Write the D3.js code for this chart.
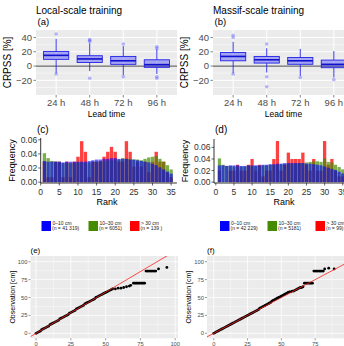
<!DOCTYPE html>
<html>
<head>
<meta charset="utf-8">
<script src="https://cdn.jsdelivr.net/npm/d3@7/dist/d3.min.js"></script>
<style>
  body { margin: 0; background: #fff; }
  text { font-family: "Liberation Sans", Arial, sans-serif; }
</style>
</head>
<body>
<div id="graphic"></div>
<script>
// ---- data ----
const leadTimes = ["24 h", "48 h", "72 h", "96 h"];
// [lower whisker, q1, median, q3, upper whisker]
const localBoxes = [[-10, 9.4, 15, 20.5, 38], [-7, 5, 10, 14.5, 32], [-13, 2.4, 7.4, 13.5, 28], [-11, -1.8, 2, 8.8, 24]];
const localOutliers = [[45, -11], [34, 36, 37, -17], [31, -15], [25, 27, -15, -17]];
const massifBoxes = [[-10, 7.4, 13.5, 19, 34], [-9, 4.2, 8.8, 13.5, 25], [-14, 2.5, 7.4, 12, 24], [-16, -2.3, 2.4, 8.4, 21]];
const massifOutliers = [[40, 43, -11], [31, -15, -29], [-16], [-19]];

const ranks = d3.range(1, 36);
const localBlue = [0.030,0.029,0.029,0.029,0.029,0.028,0.029,0.029,0.029,0.029,0.029,0.029,0.030,0.031,0.032,0.032,0.033,0.033,0.034,0.034,0.033,0.033,0.033,0.032,0.032,0.031,0.030,0.029,0.028,0.026,0.024,0.021,0.018,0.015,0.012];
const localGreen = [0.041,0.034,0.030,0.029,0.028,0.027,0.027,0.027,0.027,0.028,0.028,0.028,0.028,0.029,0.029,0.030,0.030,0.031,0.031,0.032,0.032,0.034,0.033,0.033,0.032,0.032,0.031,0.033,0.035,0.036,0.037,0.033,0.029,0.024,0.018];
const localRed = [0.029,0.007,0.007,0.029,0.029,0.007,0.029,0.007,0.029,0.036,0.058,0.043,0.007,0.029,0.029,0.029,0.036,0.043,0.050,0.043,0.029,0.029,0.058,0.043,0.022,0.029,0.022,0.029,0.014,0.029,0.043,0.029,0.029,0.014,0.007];
const massifBlue = [0.029,0.029,0.028,0.029,0.029,0.029,0.028,0.028,0.029,0.029,0.029,0.029,0.030,0.030,0.031,0.031,0.032,0.032,0.033,0.033,0.033,0.033,0.033,0.033,0.032,0.032,0.031,0.030,0.029,0.027,0.025,0.023,0.021,0.018,0.015];
const massifGreen = [0.041,0.030,0.028,0.028,0.027,0.027,0.027,0.027,0.028,0.028,0.028,0.028,0.029,0.029,0.030,0.030,0.030,0.031,0.031,0.031,0.032,0.032,0.033,0.033,0.034,0.035,0.036,0.036,0.035,0.041,0.035,0.034,0.030,0.026,0.022];
const massifRed = [0.020,0.000,0.000,0.020,0.020,0.030,0.020,0.020,0.030,0.040,0.020,0.030,0.010,0.020,0.020,0.040,0.071,0.020,0.030,0.051,0.040,0.040,0.040,0.051,0.030,0.020,0.040,0.020,0.020,0.071,0.030,0.040,0.020,0.010,0.010];

const classLabels = ["0\u201310 cm", "10\u201330 cm", "> 30 cm"];
const localCounts = ["(n = 41 319)", "(n = 6051)", "(n = 139 )"];
const massifCounts = ["(n = 42 229)", "(n = 5181)", "(n = 99)"];
const classColors = ["#0000ff", "#458b00", "#ff0000"];

// quantile pairs: forecast vs observation, plus reference line [intercept, slope]
const localForecast = [0,1,2,3,4,5,6,7,8,9,10,11,12,13,14,15,16,17,18,19,20,21,22,23,24,25,26,27,28,29,30,31,32,33,34,35,36,37,38,39,40,41,42,43,44,45,46,47,48,49,50,51,52,53,54,55,57,59,61,63,65,67,68,70,71,72,73,74,75,76,77,78,79,80,81,82,83,84,85,86,88,94];
const localObserved = [0,1,2,3,5,6,7,8,9,10,12,13,14,15,16,17,18,20,21,22,23,24,25,26,28,29,30,31,32,34,35,36,37,38,39,41,42,43,44,45,46,47,48,50,51,52,53,54,55,56,57,58,59,60,61,62,62,63,63,64,65,66,67,70,70,70,70,70,70,70,70,70,87,87,87,87,87,87,87,87,90,92];
const localLine = [0, 1.15];
const massifForecast = [0,1,2,3,4,5,6,7,8,9,10,11,12,13,14,15,16,17,18,19,20,21,22,23,24,25,26,27,28,29,30,31,32,33,34,35,36,37,38,39,40,41,42,43,44,45,46,47,48,49,50,51,52,53,54,55,56,57,58,59,60,61,62,63,64,65,66,67,68,69,70,71,72,73,74,75,76,77,78,79,80,81,82,85,89];
const massifObserved = [0,1,2,3,4,5,6,7,8,9,10,11,12,13,14,15,16,17,18,19,20,21,22,23,24,25,26,27,28,29,30,31,32,33,35,36,37,38,39,40,41,42,43,45,46,47,48,49,50,51,52,53,54,55,56,57,58,58,59,59,60,61,62,63,64,64,65,70,70,70,70,70,70,70,87,87,87,87,87,87,87,87,90,91,90];
const massifLine = [0, 1];

// ---- svg ----
const svg = d3.select("#graphic")
    .append("svg")
    .attr("width", 344)
    .attr("height", 346)
    .style("display", "block");

const tickGrey = "#4d4d4d";

function boxPanel(boxes, outliers, title, tag, p) {
    const g = svg.append("g");
    const step = (p.x1 - p.x0) / 4.2;
    const x = d3.scaleBand().domain(leadTimes)
        .range([p.x0 + 0.1 * step, p.x1 - 0.1 * step]);
    const y = d3.scaleLinear().domain([-40.5, 50.5]).range([p.y1, p.y0]);

    g.append("rect").attr("x", p.x0).attr("y", p.y0)
        .attr("width", p.x1 - p.x0).attr("height", p.y1 - p.y0)
        .attr("fill", "#ebebeb");
    // grid
    g.selectAll(".minor").data([-30, -10, 10, 30]).join("line")
        .attr("x1", p.x0).attr("x2", p.x1)
        .attr("y1", d => y(d)).attr("y2", d => y(d))
        .attr("stroke", "#fff").attr("stroke-width", 0.5);
    g.selectAll(".major").data([-20, 0, 20, 40]).join("line")
        .attr("x1", p.x0).attr("x2", p.x1)
        .attr("y1", d => y(d)).attr("y2", d => y(d))
        .attr("stroke", "#fff").attr("stroke-width", 1);
    g.selectAll(".vmajor").data(leadTimes).join("line")
        .attr("x1", d => x(d) + x.bandwidth() / 2).attr("x2", d => x(d) + x.bandwidth() / 2)
        .attr("y1", p.y0).attr("y2", p.y1)
        .attr("stroke", "#fff").attr("stroke-width", 1);
    // zero reference
    g.append("line").attr("x1", p.x0).attr("x2", p.x1)
        .attr("y1", y(0)).attr("y2", y(0))
        .attr("stroke", "#666").attr("stroke-width", 1.3);

    const bw = x.bandwidth() * 0.75;
    const box = g.selectAll(".box").data(boxes).join("g")
        .attr("transform", (d, i) => `translate(${x(leadTimes[i]) + x.bandwidth() / 2},0)`);
    box.append("line").attr("x1", 0).attr("x2", 0)
        .attr("y1", d => y(d[0])).attr("y2", d => y(d[1]))
        .attr("stroke", "#2222e8").attr("stroke-width", 0.9);
    box.append("line").attr("x1", 0).attr("x2", 0)
        .attr("y1", d => y(d[3])).attr("y2", d => y(d[4]))
        .attr("stroke", "#2222e8").attr("stroke-width", 0.9);
    box.append("rect").attr("x", -bw / 2).attr("width", bw)
        .attr("y", d => y(d[3])).attr("height", d => y(d[1]) - y(d[3]))
        .attr("fill", "#0000ff").attr("fill-opacity", 0.3)
        .attr("stroke", "#2222e8").attr("stroke-width", 0.9);
    box.append("line").attr("x1", -bw / 2).attr("x2", bw / 2)
        .attr("y1", d => y(d[2])).attr("y2", d => y(d[2]))
        .attr("stroke", "#1010d0").attr("stroke-width", 1.6);
    box.each(function(d, i) {
        d3.select(this).selectAll("circle").data(outliers[i]).join("circle")
            .attr("cx", 0).attr("cy", v => y(v)).attr("r", 1.8)
            .attr("fill", "#5050ff").attr("fill-opacity", 0.4);
    });

    // axes
    g.selectAll(".ytl").data([-20, 0, 20, 40]).join("text")
        .attr("x", p.x0 - 4).attr("y", d => y(d) + 3.3)
        .attr("text-anchor", "end").attr("font-size", 9.5).attr("fill", tickGrey)
        .text(d => d < 0 ? "\u2212" + (-d) : d);
    g.selectAll(".ytk").data([-20, 0, 20, 40]).join("line")
        .attr("x1", p.x0 - 2.5).attr("x2", p.x0)
        .attr("y1", d => y(d)).attr("y2", d => y(d))
        .attr("stroke", "#333").attr("stroke-width", 0.6);
    g.selectAll(".xtl").data(leadTimes).join("text")
        .attr("x", d => x(d) + x.bandwidth() / 2).attr("y", p.y1 + 10.5)
        .attr("text-anchor", "middle").attr("font-size", 9.5).attr("fill", tickGrey)
        .text(d => d);
    g.selectAll(".xtk").data(leadTimes).join("line")
        .attr("x1", d => x(d) + x.bandwidth() / 2).attr("x2", d => x(d) + x.bandwidth() / 2)
        .attr("y1", p.y1).attr("y2", p.y1 + 2.5)
        .attr("stroke", "#333").attr("stroke-width", 0.6);

    g.append("text").attr("transform", `translate(${p.x0 - 25},${(p.y0 + p.y1) / 2}) rotate(-90)`)
        .attr("text-anchor", "middle").attr("font-size", 10).text("CRPSS [%]");
    g.append("text").attr("x", (p.x0 + p.x1) / 2).attr("y", p.y1 + 22)
        .attr("text-anchor", "middle").attr("font-size", 8.5).text("Lead time");
    g.append("text").attr("x", p.x0).attr("y", 14)
        .attr("font-size", 10).text(title);
    g.append("text").attr("x", p.x0 + 1.5).attr("y", 25)
        .attr("font-size", 9.5).text(tag);
}

function rankPanel(blue, green, red, counts, tag, p) {
    const g = svg.append("g");
    const x = d3.scaleLinear().domain(p.xd).range([p.x0, p.x1]);
    const y = d3.scaleLinear().domain(p.yd).range([p.y1, p.y0]);
    // drawn red first, blue last; overlapping with transparency
    const series = [[red, classColors[2], 0.75], [green, classColors[1], 0.7], [blue, classColors[0], 0.6]];
    series.forEach(([vals, col, op]) => {
        g.append("g").selectAll("rect").data(ranks).join("rect")
            .attr("x", r => x(r - 0.45)).attr("width", x(0.9) - x(0))
            .attr("y", (r, i) => y(vals[i])).attr("height", (r, i) => y(0) - y(vals[i]))
            .attr("fill", col).attr("fill-opacity", op);
    });
    g.append("line").attr("x1", p.x0).attr("x2", p.x0).attr("y1", p.y0).attr("y2", p.y1)
        .attr("stroke", "#000").attr("stroke-width", 0.8);
    g.append("line").attr("x1", p.x0).attr("x2", p.x1).attr("y1", p.y1).attr("y2", p.y1)
        .attr("stroke", "#000").attr("stroke-width", 0.8);
    const yt = [0, 0.02, 0.04, 0.06];
    g.selectAll(".ytk").data(yt).join("line")
        .attr("x1", p.x0 - 2.5).attr("x2", p.x0).attr("y1", d => y(d)).attr("y2", d => y(d))
        .attr("stroke", "#000").attr("stroke-width", 0.6);
    g.selectAll(".ytl").data(yt).join("text")
        .attr("x", p.x0 - 3.5).attr("y", d => y(d) + 3)
        .attr("text-anchor", "end").attr("font-size", 8.5).attr("fill", "#333")
        .text(d => d3.format(".2f")(d));
    const xt = [0, 5, 10, 15, 20, 25, 30, 35];
    g.selectAll(".xtk").data(xt).join("line")
        .attr("x1", d => x(d)).attr("x2", d => x(d)).attr("y1", p.y1).attr("y2", p.y1 + 2.5)
        .attr("stroke", "#000").attr("stroke-width", 0.6);
    g.selectAll(".xtl").data(xt).join("text")
        .attr("x", d => x(d)).attr("y", p.y1 + 11.5)
        .attr("text-anchor", "middle").attr("font-size", 8.5).attr("fill", "#333")
        .text(d => d);
    g.append("text").attr("x", p.xc).attr("y", p.y1 + 21.5)
        .attr("text-anchor", "middle").attr("font-size", 9).text("Rank");
    g.append("text").attr("transform", `translate(${p.x0 - 26},${(p.y0 + p.y1) / 2}) rotate(-90)`)
        .attr("text-anchor", "middle").attr("font-size", 9).text("Frequency");
    g.append("text").attr("x", p.tagX).attr("y", 133)
        .attr("font-size", 10).text(tag);

    // legend
    const lg = g.selectAll(".key").data(classLabels).join("g")
        .attr("transform", (d, i) => `translate(${p.keys[i]},221)`);
    lg.append("rect").attr("width", 9.5).attr("height", 10)
        .attr("fill", (d, i) => classColors[i]);
    lg.append("text").attr("x", 11).attr("y", 4.4).attr("font-size", 5).attr("fill", "#222")
        .text(d => d);
    lg.append("text").attr("x", 10.5).attr("y", 9.2).attr("font-size", 5).attr("fill", "#222")
        .text((d, i) => counts[i]);
}

function qqPanel(fc, obs, refLine, tag, p) {
    const g = svg.append("g");
    const x = d3.scaleLinear().domain(p.xd).range([p.x0, p.x1]);
    const y = d3.scaleLinear().domain(p.yd).range([p.y1, p.y0]);
    g.append("rect").attr("x", p.x0).attr("y", p.y0)
        .attr("width", p.x1 - p.x0).attr("height", p.y1 - p.y0).attr("fill", "#ebebeb");
    const minor = [12.5, 37.5, 62.5, 87.5];
    const major = [0, 25, 50, 75, 100];
    g.selectAll(".hmin").data(minor).join("line")
        .attr("x1", p.x0).attr("x2", p.x1).attr("y1", d => y(d)).attr("y2", d => y(d))
        .attr("stroke", "#fff").attr("stroke-width", 0.4);
    g.selectAll(".vmin").data(minor).join("line")
        .attr("y1", p.y0).attr("y2", p.y1).attr("x1", d => x(d)).attr("x2", d => x(d))
        .attr("stroke", "#fff").attr("stroke-width", 0.4);
    g.selectAll(".hmaj").data(major).join("line")
        .attr("x1", p.x0).attr("x2", p.x1).attr("y1", d => y(d)).attr("y2", d => y(d))
        .attr("stroke", "#fff").attr("stroke-width", 0.8);
    g.selectAll(".vmaj").data(major).join("line")
        .attr("y1", p.y0).attr("y2", p.y1).attr("x1", d => x(d)).attr("x2", d => x(d))
        .attr("stroke", "#fff").attr("stroke-width", 0.8);

    g.selectAll("circle").data(fc).join("circle")
        .attr("cx", d => x(d)).attr("cy", (d, i) => y(obs[i])).attr("r", 1.4)
        .attr("fill", "#000");
    const clipId = "clip" + tag.replace(/\W/g, "");
    g.append("clipPath").attr("id", clipId).append("rect")
        .attr("x", p.x0).attr("y", p.y0).attr("width", p.x1 - p.x0).attr("height", p.y1 - p.y0);
    const [a, b] = refLine;
    g.append("line").attr("clip-path", `url(#${clipId})`)
        .attr("x1", x(p.xd[0])).attr("y1", y(a + b * p.xd[0]))
        .attr("x2", x(p.xd[1])).attr("y2", y(a + b * p.xd[1]))
        .attr("stroke", "#ff2020").attr("stroke-width", 0.8);

    g.selectAll(".ytk").data(major).join("line")
        .attr("x1", p.x0 - 2).attr("x2", p.x0).attr("y1", d => y(d)).attr("y2", d => y(d))
        .attr("stroke", "#333").attr("stroke-width", 0.5);
    g.selectAll(".ytl").data(major).join("text")
        .attr("x", p.x0 - 3).attr("y", d => y(d) + 2)
        .attr("text-anchor", "end").attr("font-size", 5.8).attr("fill", tickGrey)
        .text(d => d);
    g.selectAll(".xtk").data(major).join("line")
        .attr("x1", d => x(d)).attr("x2", d => x(d)).attr("y1", p.y1).attr("y2", p.y1 + 2)
        .attr("stroke", "#333").attr("stroke-width", 0.5);
    g.selectAll(".xtl").data(major).join("text")
        .attr("x", d => x(d)).attr("y", p.y1 + 7.5)
        .attr("text-anchor", "middle").attr("font-size", 5.8).attr("fill", tickGrey)
        .text(d => d);
    g.append("text").attr("transform", `translate(${p.x0 - 16},${(p.y0 + p.y1) / 2}) rotate(-90)`)
        .attr("text-anchor", "middle").attr("font-size", 7).text("Observation [cm]");
    g.append("text").attr("x", p.x0).attr("y", 253)
        .attr("font-size", 8).text(tag);
}

boxPanel(localBoxes, localOutliers, "Local-scale training", "(a)", {x0: 36, x1: 177, y0: 30, y1: 95});
boxPanel(massifBoxes, massifOutliers, "Massif-scale training", "(b)", {x0: 213, x1: 354, y0: 30, y1: 95});

rankPanel(localBlue, localGreen, localRed, localCounts, "(c)",
    {x0: 40.7, x1: 176.9, xd: [0, 36.55], y0: 138, y1: 183, yd: [-0.0012, 0.0625], xc: 107, tagX: 37, keys: [41.5, 88.5, 130]});
rankPanel(massifBlue, massifGreen, massifRed, massifCounts, "(d)",
    {x0: 214, x1: 350, xd: [-0.5, 37], y0: 139, y1: 183, yd: [-0.0015, 0.0745], xc: 284, tagX: 215, keys: [220, 267.5, 315.5]});

qqPanel(localForecast, localObserved, localLine, "(e)", {x0: 30.5, x1: 178, xd: [-4, 102], y0: 256, y1: 338.3, yd: [-7, 108]});
qqPanel(massifForecast, massifObserved, massifLine, "(f)", {x0: 207, x1: 349, xd: [-5, 100], y0: 256, y1: 338.3, yd: [-7, 108]});
</script>
</body>
</html>
